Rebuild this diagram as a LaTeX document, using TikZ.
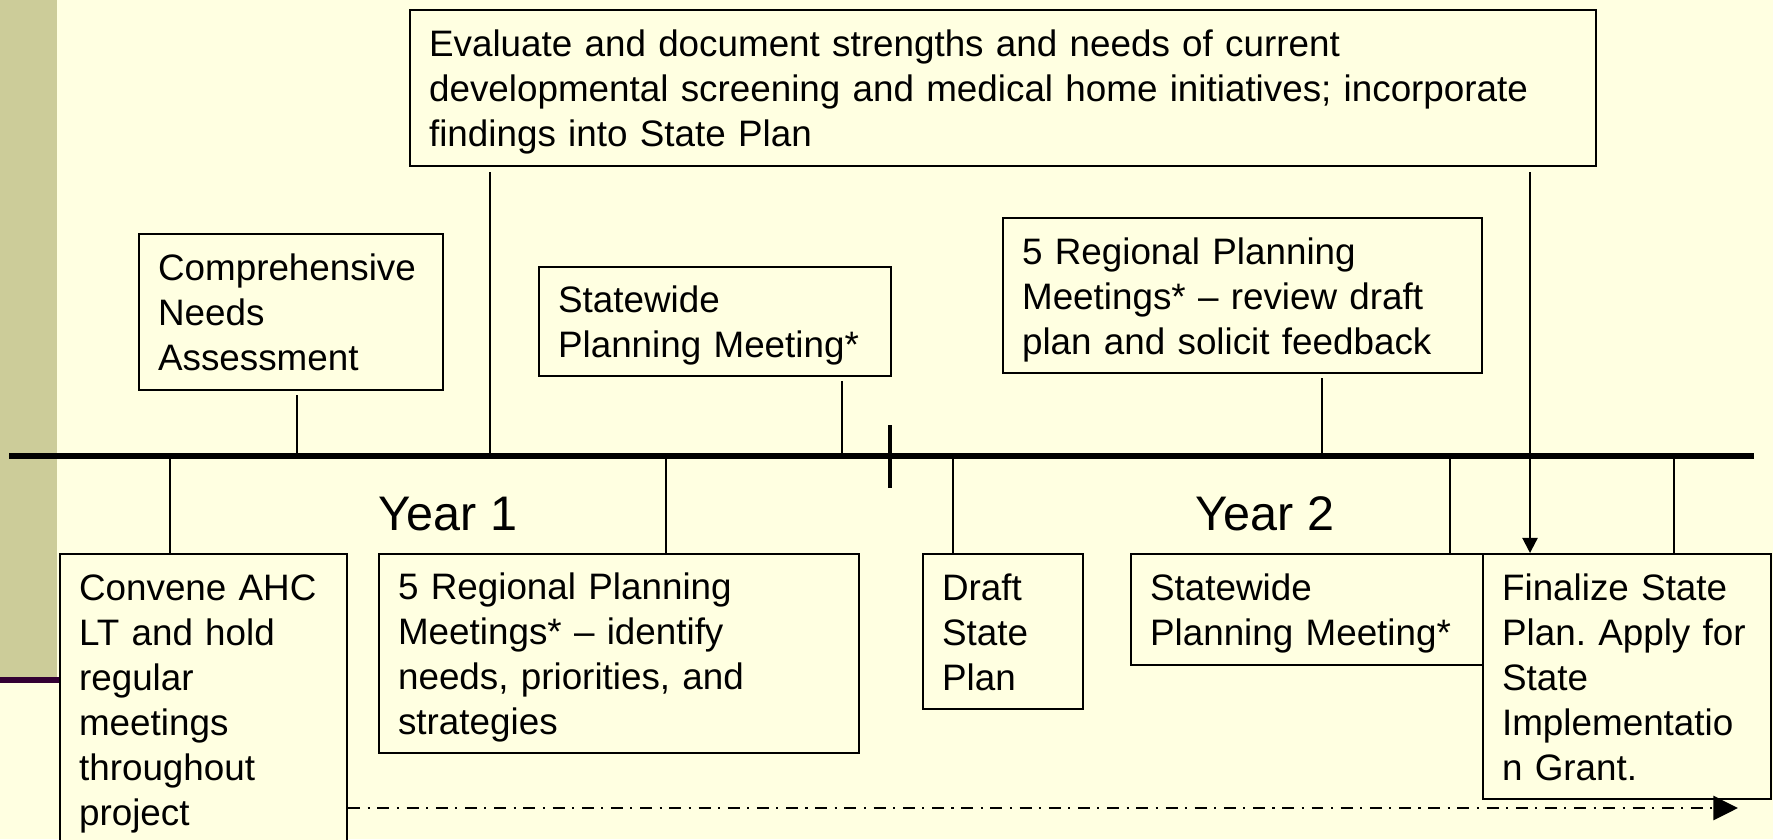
\documentclass[tikz,border=0pt]{standalone}
\usepackage{fontspec}
\setmainfont{Liberation Sans}
\usetikzlibrary{arrows.meta}
\frenchspacing

\definecolor{slidebg}{RGB}{255,255,225}
\definecolor{slidebar}{RGB}{204,204,153}
\definecolor{slideline}{RGB}{51,0,51}

\newcommand{\linestrut}{\rule[-2.56pt]{0pt}{12.8pt}}

\begin{document}
\begin{tikzpicture}[
    x=0.01cm,
    y=-0.01cm,
    stagebox/.style={
        draw,
        fill=slidebg,
        line width=0.6pt,
        anchor=north west,
        align=left,
        inner xsep=0.19cm,
        inner ysep=0pt,
        font=\fontsize{10.47}{12.8}\selectfont,
        execute at begin node=\linestrut,
        execute at end node=\linestrut
    },
    riser/.style={line width=0.5pt},
    yearlabel/.style={font=\fontsize{13.8}{16}\selectfont}
]
    \useasboundingbox (0,0) rectangle (1773,839);
    \clip (0,0) rectangle (1773,839);
    \fill[slidebg] (0,0) rectangle (1773,839);
    \fill[slidebar] (0,0) rectangle (57,677);
    \draw[slideline,line width=1.7pt] (0,680) -- (59,680);

    \coordinate (tl-west) at (9,456);
    \coordinate (tl-east) at (1754,456);
    \draw[line width=1.5pt] (tl-west) -- (tl-east);
    \coordinate (yearmark) at (890,456);
    \draw[line width=1.35pt] (yearmark) ++(0,-31) -- ++(0,63);

    \node[yearlabel] (year1) at (448,514) {Year 1};
    \node[yearlabel] (year2) at (1265,514) {Year 2};

    \node[
        stagebox,
        text width=11.47cm,
        minimum height=1.56cm
    ] (evaluate) at (409,9) {Evaluate and document strengths and needs of current\\
        developmental screening and medical home initiatives; incorporate\\
        findings into State Plan};
    \node[
        stagebox,
        text width=2.66cm,
        minimum height=1.56cm
    ] (needs) at (138,233) {Comprehensive\\Needs\\Assessment};
    \node[
        stagebox,
        text width=3.14cm,
        minimum height=1.09cm
    ] (stateA) at (538,266) {Statewide\\Planning Meeting*};
    \node[
        stagebox,
        text width=4.41cm,
        minimum height=1.55cm
    ] (regionA) at (1002,217) {5 Regional Planning\\Meetings* -- review draft\\plan and solicit feedback};

    \node[
        stagebox,
        text width=2.49cm,
        minimum height=2.9cm
    ] (convene) at (59,553) {Convene AHC\\LT and hold\\regular\\meetings\\throughout\\project};
    \node[
        stagebox,
        text width=4.42cm,
        minimum height=1.99cm
    ] (regionB) at (378,553) {5 Regional Planning\\Meetings* -- identify\\needs, priorities, and\\strategies};
    \node[
        stagebox,
        text width=1.22cm,
        minimum height=1.55cm
    ] (draft) at (922,553) {Draft\\State\\Plan};
    \node[
        stagebox,
        text width=3.14cm,
        minimum height=1.11cm
    ] (stateB) at (1130,553) {Statewide\\Planning Meeting*};
    \node[
        stagebox,
        text width=2.50cm,
        minimum height=2.45cm
    ] (finalize) at (1482,553) {Finalize State\\Plan. Apply for\\State\\Implementatio\\n Grant.};

    \coordinate (needs-foot) at (297,456);
    \coordinate (evaluate-foot) at (490,456);
    \coordinate (stateA-foot) at (842,456);
    \coordinate (regionA-foot) at (1322,456);
    \draw[riser,shorten >=1.2pt] (needs-foot) -- (needs-foot |- needs.south);
    \draw[riser,shorten >=1.4pt] (evaluate-foot) -- (evaluate-foot |- evaluate.south);
    \draw[riser,shorten >=1.2pt] (stateA-foot) -- (stateA-foot |- stateA.south);
    \draw[riser,shorten >=1.2pt] (regionA-foot) -- (regionA-foot |- regionA.south);

    \coordinate (convene-foot) at (170,456);
    \coordinate (regionB-foot) at (666,456);
    \coordinate (draft-foot) at (953,456);
    \coordinate (stateB-foot) at (1450,456);
    \coordinate (finalize-foot) at (1674,456);
    \draw[riser] (convene-foot) -- (convene-foot |- convene.north);
    \draw[riser] (regionB-foot) -- (regionB-foot |- regionB.north);
    \draw[riser] (draft-foot) -- (draft-foot |- draft.north);
    \draw[riser] (stateB-foot) -- (stateB-foot |- stateB.north);
    \draw[riser] (finalize-foot) -- (finalize-foot |- finalize.north);

    \coordinate (handoff) at (1530,456);
    \draw[
        line width=0.6pt,
        shorten <=1.4pt,
        -{Triangle[length=4.3pt,width=4.3pt]}
    ] (handoff |- evaluate.south) -- (handoff |- finalize.north);

    \coordinate (runout) at (1738,808);
    \draw[
        line width=0.8pt,
        dash pattern=on 3.4pt off 2.1pt on 0.6pt off 2.2pt,
        -{Triangle[length=7pt,width=6.8pt]}
    ] (runout -| convene.east) -- (runout);
\end{tikzpicture}
\end{document}
